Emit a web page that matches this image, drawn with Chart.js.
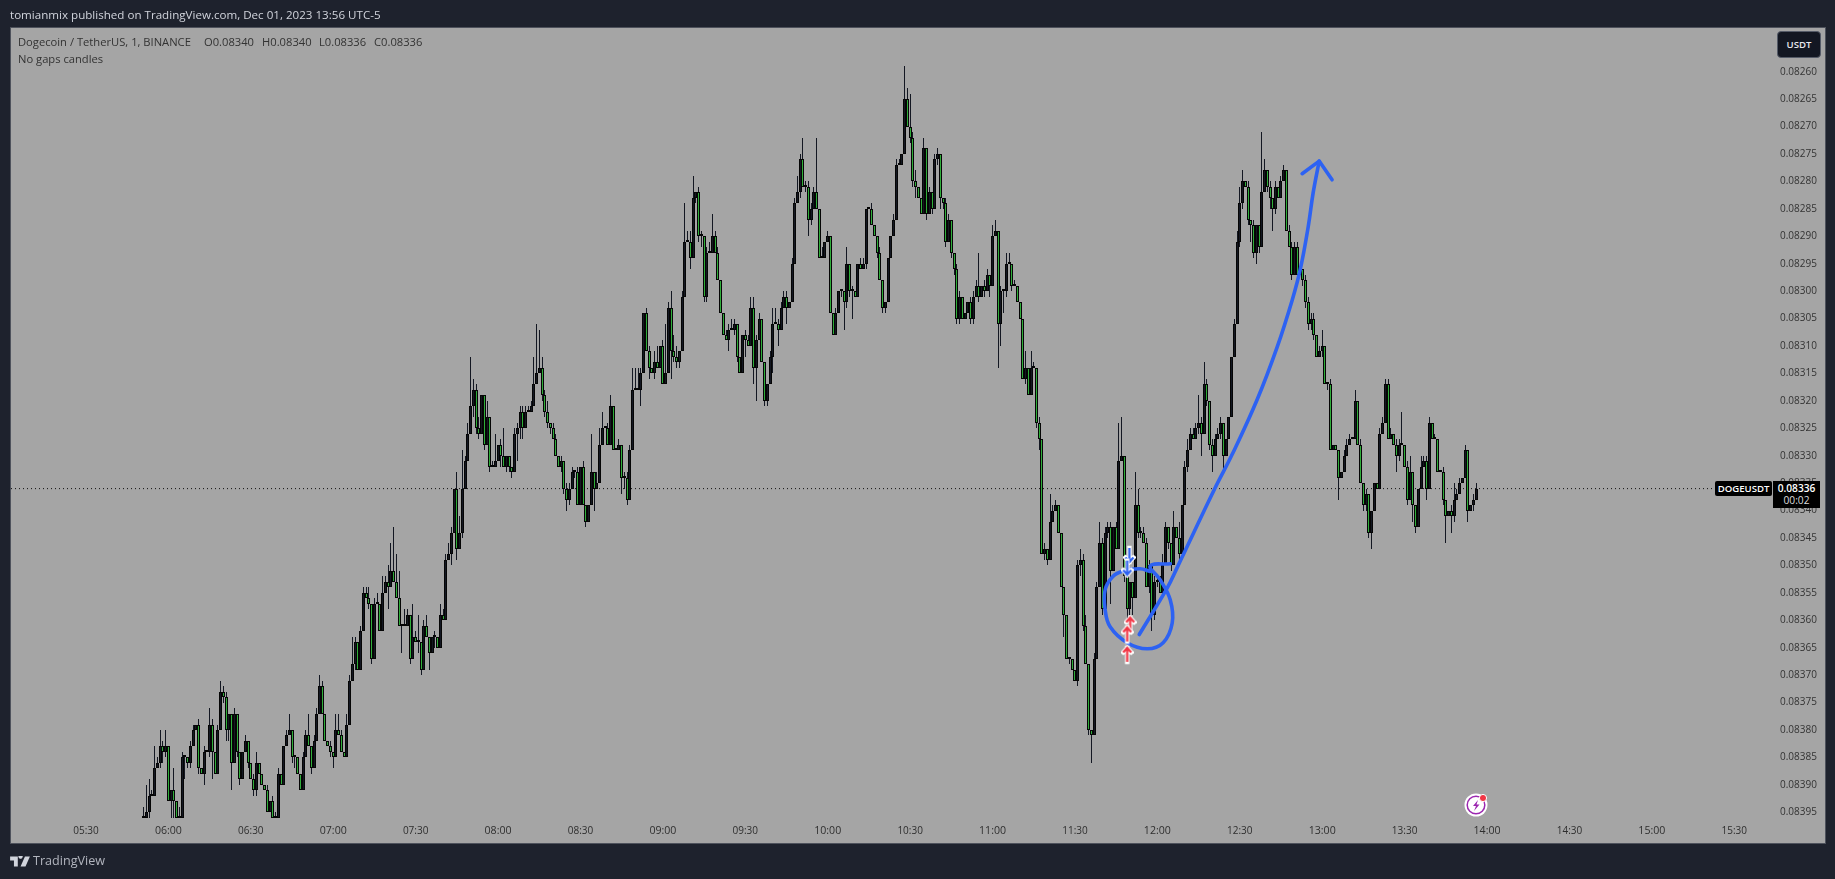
<!DOCTYPE html>
<html><head><meta charset="utf-8"><title>DOGEUSDT</title>
<script src="https://cdn.jsdelivr.net/npm/chart.js@4"></script>
<style>
html,body{margin:0;padding:0;background:#1e222d;overflow:hidden;width:1835px;height:879px;font-family:"Open Sans",sans-serif}
#panel{position:absolute;left:10px;top:27px;width:1814px;height:815px;background:#a5a5a5;border:1px solid #4e525c;box-sizing:content-box}
canvas{position:absolute;left:0;top:0}
.t{position:absolute;white-space:pre;line-height:1}
</style></head><body>
<div id="panel"></div>
<canvas id="c" width="1835" height="879"></canvas>
<div class="t" style="left:10px;top:9px;font-size:11.6px;color:#d1d4dc">tomianmix published on TradingView.com, Dec 01, 2023 13:56 UTC-5</div>
<div class="t" style="left:18px;top:36px;font-size:11.2px;color:#333">Dogecoin / TetherUS, 1, BINANCE</div>
<div class="t" style="left:204px;top:36px;font-size:11.2px;color:#333">O0.08340</div>
<div class="t" style="left:262px;top:36px;font-size:11.2px;color:#333">H0.08340</div>
<div class="t" style="left:319px;top:36px;font-size:11.2px;color:#333">L0.08336</div>
<div class="t" style="left:374px;top:36px;font-size:11.2px;color:#333">C0.08336</div>
<div class="t" style="left:18px;top:53px;font-size:11.2px;color:#333">No gaps candles</div>
<div class="t" style="left:1777px;top:31px;width:42px;height:25px;line-height:25px;text-align:center;background:#131722;border:1px solid #555b68;border-radius:4px;color:#e8e8ee;font-size:9.6px;font-weight:600">USDT</div>
<div class="t" style="left:1715px;top:481px;width:57px;height:15px;line-height:15px;text-align:center;background:#000;border-radius:2px;color:#fff;font-size:9.6px;font-weight:600">DOGEUSDT</div>
<div class="t" style="left:1773px;top:481px;width:47px;height:27px;background:#000;color:#fff;font-size:10.2px;text-align:center"><div style="position:absolute;left:0;width:47px;top:2px;font-weight:600">0.08336</div><div style="position:absolute;left:0;width:47px;top:14px;color:#ddd">00:02</div></div>
<svg style="position:absolute;left:1463px;top:792px" width="26" height="26" viewBox="0 0 26 26">
<circle cx="13" cy="13" r="11.5" fill="#fff"/><circle cx="13" cy="13" r="8.8" fill="none" stroke="#9c27b0" stroke-width="1.5"/>
<path d="M15 8 L10 14 L13 14 L11 19 L16.5 12.5 L13.5 12.5 Z" fill="#9c27b0"/>
<circle cx="20" cy="6" r="3.6" fill="#f23645" stroke="#fff" stroke-width="1"/></svg>
<svg style="position:absolute;left:10px;top:856px" width="20" height="11" viewBox="0 0 36 20"><path d="M0 1h14v18H7V8H0zM27 1h9l-8 18h-9zM15 1a4 4 0 1 1 0 .1z" fill="#d1d4dc"/></svg>
<div class="t" style="left:33px;top:855px;font-size:12.6px;color:#b2b5be">TradingView</div>
<script>
// Values are in 1/100000 of a USDT.
const closePips=[
8396,8395,8392,8392,8387,8386,8383,8384,8383,8393,8391,8393,8396,8396,8385,8385,8386,8383,8380,8379,
8387,8388,8384,8384,8379,8384,8388,8380,8373,8374,8380,8377,8386,8377,8384,8389,8384,8382,8386,8389,
8391,8386,8388,8390,8391,8395,8393,8396,8396,8388,8390,8383,8381,8380,8385,8385,8388,8391,8385,8381,
8383,8387,8382,8377,8372,8377,8382,8383,8384,8385,8380,8381,8384,8385,8379,8371,8368,8364,8369,8362,
8355,8356,8357,8367,8357,8357,8362,8355,8353,8354,8351,8353,8356,8361,8361,8361,8359,8367,8363,8364,
8364,8369,8361,8363,8366,8363,8363,8365,8359,8360,8349,8348,8344,8336,8347,8344,8336,8331,8326,8321,
8318,8325,8326,
8319,8328,8323,8332,8332,8331,8328,8330,8332,8330,8332,8333,8326,8325,8322,8325,8322,8322,8321,8317,
8315,8314,8319,8322,8324,8325,8327,8330,8332,8331,8336,8338,8336,8333,8333,8339,8332,8339,8342,8339,
8333,8336,8335,8328,8325,8325,8328,8321,8329,8329,8328,8334,8334,8338,8329,8318,8318,8318,8315,8304,
8311,8314,8315,8313,8314,8310,8317,8315,8303,8311,8312,8313,8311,8301,8291,8291,8294,8283,8282,8290,
8290,8301,8293,8293,8290,8293,8298,8304,8308,8309,8307,8307,8306,8312,8315,8308,8309,8310,8303,8314,
8309,8305,8313,8320,8317,8312,8306,8306,8307,8303,8301,8303,8302,8295,8284,8282,8276,8281,8281,8287,
8285,8282,8285,8294,
8294,8291,8290,8304,8308,8304,8300,8300,8302,8295,8300,8300,8301,8295,8296,8295,8285,8285,8288,8290,
8293,8298,8303,8302,8294,8290,8287,8277,8277,8275,8265,8270,8272,8280,8281,8283,8286,8274,8286,8282,
8285,8276,8275,8283,8284,8291,8287,8293,8296,8305,8301,8305,8304,8302,8305,8301,8299,8301,8299,8300,
8297,8299,8290,8289,8306,8300,8300,8295,8295,8299,8299,8302,8305,8316,8314,8319,8314,8314,8324,8327,
8348,8347,8349,8342,8340,8339,8344,8354,8359,8367,8367,8369,8371,8350,8349,8361,8368,8380,8381,8367,
8354,8346,8358,8344,8343,8351,8343,8347,8331,8330,8352,8358,8353,8356,8339,8344,8344,8346,8354,8350,
8359,8353,8353,8355,
8350,8343,8346,8350,8343,8345,8348,8339,8332,8329,8326,8327,8325,8324,8326,8317,8320,8328,8330,8327,
8326,8324,8330,8327,8323,8312,8306,8291,8284,8280,8281,8287,8288,8293,8288,8292,8282,8278,8281,8283,
8285,8281,8283,8280,8278,8289,8292,8297,8292,8297,8296,8298,8302,8306,8305,8308,8312,8311,8310,8317,
8317,8329,8328,8329,8334,8333,8330,8328,8327,8327,8320,8328,8335,8339,8337,8344,8340,8335,8336,8326,
8324,8317,8327,8326,8328,8330,8328,8328,8332,8338,8333,8339,8343,8336,8332,8331,8336,8324,8327,8327,
8333,8333,8338,8341,8340,8341,8338,8337,8335,8334,8329,8340,8339,8338,8336];
// Wick length beyond the body, lower-price side (upward on this inverted axis)
const lowerWick=[
2,5,3,1,4,1,3,1,3,0,0,4,0,2,1,0,0,1,1,0,1,0,1,0,3,1,0,1,2,1,1,0,0,1,0,0,0,1,0,0,
1,2,0,0,0,1,0,1,1,1,0,0,1,3,0,0,0,0,1,1,4,0,1,1,2,1,0,0,1,0,3,3,1,0,2,1,5,1,0,1,
1,1,2,0,1,2,0,3,1,3,5,8,5,5,0,3,1,0,6,1,5,0,1,2,0,0,1,0,2,1,1,2,1,0,3,3,7,1,2,9,2,1,2,
0,0,3,0,1,5,0,1,5,0,0,0,1,1,1,1,1,1,1,5,9,7,2,1,2,0,1,1,0,1,0,1,1,1,0,1,0,1,0,0,
7,0,2,3,3,0,1,2,0,0,1,0,1,1,1,4,4,4,1,0,1,1,0,2,3,0,1,9,1,3,3,2,0,1,7,2,2,4,0,1,
1,0,1,2,4,1,1,0,0,1,1,2,1,0,0,0,1,1,2,2,1,1,0,0,0,1,3,3,1,1,1,1,0,1,1,3,1,4,1,1,1,1,10,0,
2,0,1,0,0,1,0,0,0,3,0,1,0,0,1,1,0,0,1,0,0,1,0,0,0,0,1,1,1,0,6,2,6,1,2,0,0,2,0,1,
0,1,1,0,0,1,1,0,0,1,1,0,0,0,1,1,1,6,0,1,1,0,2,2,0,1,0,2,2,0,1,0,0,0,3,0,3,1,0,1,
0,1,0,5,1,1,0,0,0,0,0,0,0,1,2,1,2,0,0,1,1,4,1,1,1,1,0,1,7,7,0,1,0,0,6,3,1,1,1,1,0,1,1,1,
2,1,0,0,3,0,3,0,1,2,1,1,1,5,1,4,1,0,1,1,1,1,0,0,0,0,1,2,3,2,0,1,0,1,0,0,11,2,0,1,
0,1,0,1,1,0,1,1,1,1,1,0,1,1,1,1,0,1,3,0,0,1,0,0,0,0,1,1,1,0,2,0,1,0,1,0,0,0,0,1,
1,1,1,1,0,1,1,6,0,1,3,0,0,0,2,1,1,1,0,1,0,0,1,0,0,1,3,1,1,0,1,0,0,1,1];
// Wick length beyond the body, higher-price side (downward on this inverted axis)
const upperWick=[
0,0,1,0,0,0,1,2,1,0,3,3,0,1,0,4,1,1,0,0,1,0,2,0,1,5,0,0,0,1,2,2,5,0,1,1,0,0,1,0,
1,1,0,0,0,0,0,0,0,0,0,0,0,0,1,2,0,0,0,0,0,1,0,0,0,0,0,0,1,2,0,0,0,0,0,0,0,1,0,0,
0,0,1,1,0,0,0,0,0,4,0,0,0,0,5,0,0,1,0,0,2,1,0,0,3,0,2,0,0,0,0,0,2,0,2,0,1,0,0,0,2,1,1,
0,1,0,1,0,0,0,2,0,1,1,1,0,5,2,2,0,0,0,0,0,0,1,1,1,1,0,0,0,1,1,2,1,0,1,0,0,0,1,0,
0,4,0,0,0,0,0,0,0,0,0,3,2,1,0,0,0,0,3,0,0,2,0,1,0,0,0,0,0,5,1,1,1,0,0,0,2,0,1,1,
2,1,1,0,0,0,0,0,0,0,2,0,1,1,0,0,3,0,0,3,6,0,0,1,1,0,3,0,3,0,0,3,0,0,0,0,1,0,1,3,1,0,0,0,
0,0,0,0,0,0,0,1,5,1,1,5,0,0,0,0,1,0,0,0,1,0,1,1,0,0,0,0,0,0,0,0,1,1,2,0,0,0,1,0,
1,0,1,2,1,1,0,1,1,1,1,0,0,0,1,1,0,1,0,1,0,2,0,0,8,4,4,1,0,1,0,0,0,0,1,0,0,0,1,2,
0,1,1,0,0,0,0,0,4,0,1,0,0,1,2,1,0,1,5,0,0,0,1,0,1,6,0,0,0,0,1,2,1,3,0,1,1,0,0,1,3,1,1,0,
1,0,1,1,0,0,1,0,0,1,0,0,0,1,4,0,1,1,3,0,0,1,3,0,0,0,0,0,1,1,0,1,3,1,2,1,0,0,1,2,
4,1,0,0,0,0,0,1,0,1,0,1,1,1,1,1,0,0,1,0,1,0,0,0,4,0,0,0,0,0,0,0,0,1,1,1,3,0,0,0,
0,0,0,0,0,3,1,0,0,1,0,3,1,0,0,0,2,0,0,0,0,0,1,5,0,3,1,0,0,0,0,2,0,1,0];
const lastMinute=836;           // 13:56
const lastPrice=0.08336;
const priceTicks=[0.0826,0.08265,0.0827,0.08275,0.0828,0.08285,0.0829,0.08295,0.083,0.08305,0.0831,0.08315,0.0832,0.08325,0.0833,0.08335,0.0834,0.08345,0.0835,0.08355,0.0836,0.08365,0.0837,0.08375,0.0838,0.08385,0.0839,0.08395];
const timeTicks=[330,360,390,420,450,480,510,540,570,600,630,660,690,720,750,780,810,840,870,900,930];
// Hand-drawn annotations, as (minute of day, price in pips)
const trendMinutes=[713.4,723.6,727.2,741,747.2,756.3,763.6,769.1,772,774.9,776.7,778.9];
const trendPips=[8362.6,8354.1,8350.4,8335.9,8329.8,8319.8,8310.2,8301.6,8296.1,8288.3,8282.1,8276.3];
const headMinutes=[772.7,778.9,783.6];
const headPips=[8278.6,8276.3,8279.7];
const loopMinutes=[724.7,717.4,721,724.7,725.4,722.1,716.3,709,702.8,701,701,703.8,707.5,713.7,717.4];
const loopPips=[8349.7,8350.1,8352.6,8356.3,8360.5,8364.1,8365.2,8364.1,8361.2,8358.1,8354.4,8352,8351,8350.6,8351.1];
const buyMinutes=[710.1,709,709];
const buyPips=[8360.8,8362.6,8366.3];
const sellMinutes=[709.8,709];
const sellPips=[8348.1,8350.4];

const PIP=1e-5, X_MIN=302.7, X_MAX=944.1, Y_MIN=0.0825204, Y_MAX=0.0839604;
const BLACK='#050505', NAVY='#131722', GREEN='#2fae3a', BLUE='#2d62f2';
const firstMinute=lastMinute-closePips.length+1;
const hhmm=m=>String(Math.floor(m/60)).padStart(2,'0')+':'+String(m%60).padStart(2,'0');
const toP=v=>v*PIP;
const bodies=[],wicks=[],bodyColors=[];
closePips.forEach((c,i)=>{
  const o=i?closePips[i-1]:c, x=firstMinute+i;
  const top=Math.min(o,c)-(lowerWick[i]||0), bot=Math.max(o,c)+(upperWick[i]||0);
  bodies.push({x,y:[toP(o),toP(c)]});
  wicks.push({x,y:[toP(top),toP(bot)]});
  bodyColors.push(c>o?GREEN:c<o?NAVY:'#ffffff');
});
const zipPts=(xs,ys)=>xs.map((x,i)=>({x,y:toP(ys[i])}));
function arrowIcon(color,up){
  const c=document.createElement('canvas');c.width=13;c.height=20;
  const g=c.getContext('2d');
  const path=()=>{g.beginPath();
    if(up){g.moveTo(6.5,3);g.lineTo(6.5,17);g.moveTo(2.5,7.5);g.lineTo(6.5,3);g.lineTo(10.5,7.5);}
    else{g.moveTo(6.5,17);g.lineTo(6.5,3);g.moveTo(2.5,12.5);g.lineTo(6.5,17);g.lineTo(10.5,12.5);}};
  g.lineCap='square';g.lineWidth=4.4;g.strokeStyle='#fff';path();g.stroke();
  g.lineCap='butt';g.lineWidth=2.2;g.strokeStyle=color;path();g.stroke();
  return c;
}
const redUp=arrowIcon('#f23645',true), blueDown=arrowIcon('#2d62f2',false);
const stroke=(data,extra)=>Object.assign({type:'line',data,borderColor:BLUE,borderWidth:3.6,pointRadius:0,tension:0.4,fill:false,order:1,borderCapStyle:'round',borderJoinStyle:'round'},extra||{});
// Snap candle rectangles to whole device pixels so they stay as crisp as the reference.
const crispBars={id:'crispBars',afterDatasetsUpdate(chart){
  chart.getSortedVisibleDatasetMetas().forEach(meta=>{
    if(meta.type!=='bar')return;
    meta.data.forEach(el=>{
      el.x=Math.floor(el.x)+0.5;
      el.y=Math.round(el.y);
      el.base=Math.round(el.base);
    });
  });
}};
new Chart(document.getElementById('c'),{
  type:'bar',
  plugins:[crispBars],
  data:{datasets:[
    {type:'bar',data:wicks,backgroundColor:NAVY,barThickness:1,grouped:false,order:6,inflateAmount:0},
    {type:'bar',data:bodies,backgroundColor:bodyColors,borderColor:BLACK,borderWidth:1,borderSkipped:false,barThickness:3,minBarLength:2,grouped:false,order:5,inflateAmount:0},
    {type:'line',data:[{x:X_MIN,y:lastPrice},{x:X_MAX,y:lastPrice}],borderColor:'#111',borderWidth:1,borderDash:[1,3],pointRadius:0,order:7},
    stroke(zipPts(trendMinutes,trendPips)),
    stroke(zipPts(loopMinutes,loopPips)),
    stroke(zipPts(headMinutes,headPips),{tension:0}),
    {type:'line',data:zipPts(buyMinutes,buyPips),showLine:false,pointStyle:redUp,order:0},
    {type:'line',data:zipPts(sellMinutes,sellPips),showLine:false,pointStyle:blueDown,order:0}
  ]},
  options:{
    responsive:false,animation:false,devicePixelRatio:1,
    layout:{padding:{left:11,top:28,right:10,bottom:36}},
    plugins:{legend:{display:false},tooltip:{enabled:false},title:{display:false}},
    scales:{
      x:{type:'linear',position:'bottom',min:X_MIN,max:X_MAX,offset:false,
        grid:{display:false,drawTicks:false},border:{display:false},
        afterBuildTicks:a=>{a.ticks=timeTicks.map(v=>({value:v}));},
        afterFit:a=>{a.height=25;},
        ticks:{autoSkip:false,maxRotation:0,padding:7,color:'#2e2e2e',
          font:c=>({family:'"Open Sans"',size:(c.tick&&c.tick.value%60===0)?10.6:10,weight:'400'}),
          callback:v=>hhmm(v)}},
      y:{type:'linear',position:'right',reverse:true,min:Y_MIN,max:Y_MAX,
        grid:{display:false,drawTicks:false},border:{display:false},
        afterBuildTicks:a=>{a.ticks=priceTicks.map(v=>({value:v}));},
        afterFit:a=>{a.width=52;},
        ticks:{autoSkip:false,padding:7,color:'#333',font:{family:'"Open Sans"',size:10},callback:v=>v.toFixed(5)}}
    }
  }
});
</script>
</body></html>
